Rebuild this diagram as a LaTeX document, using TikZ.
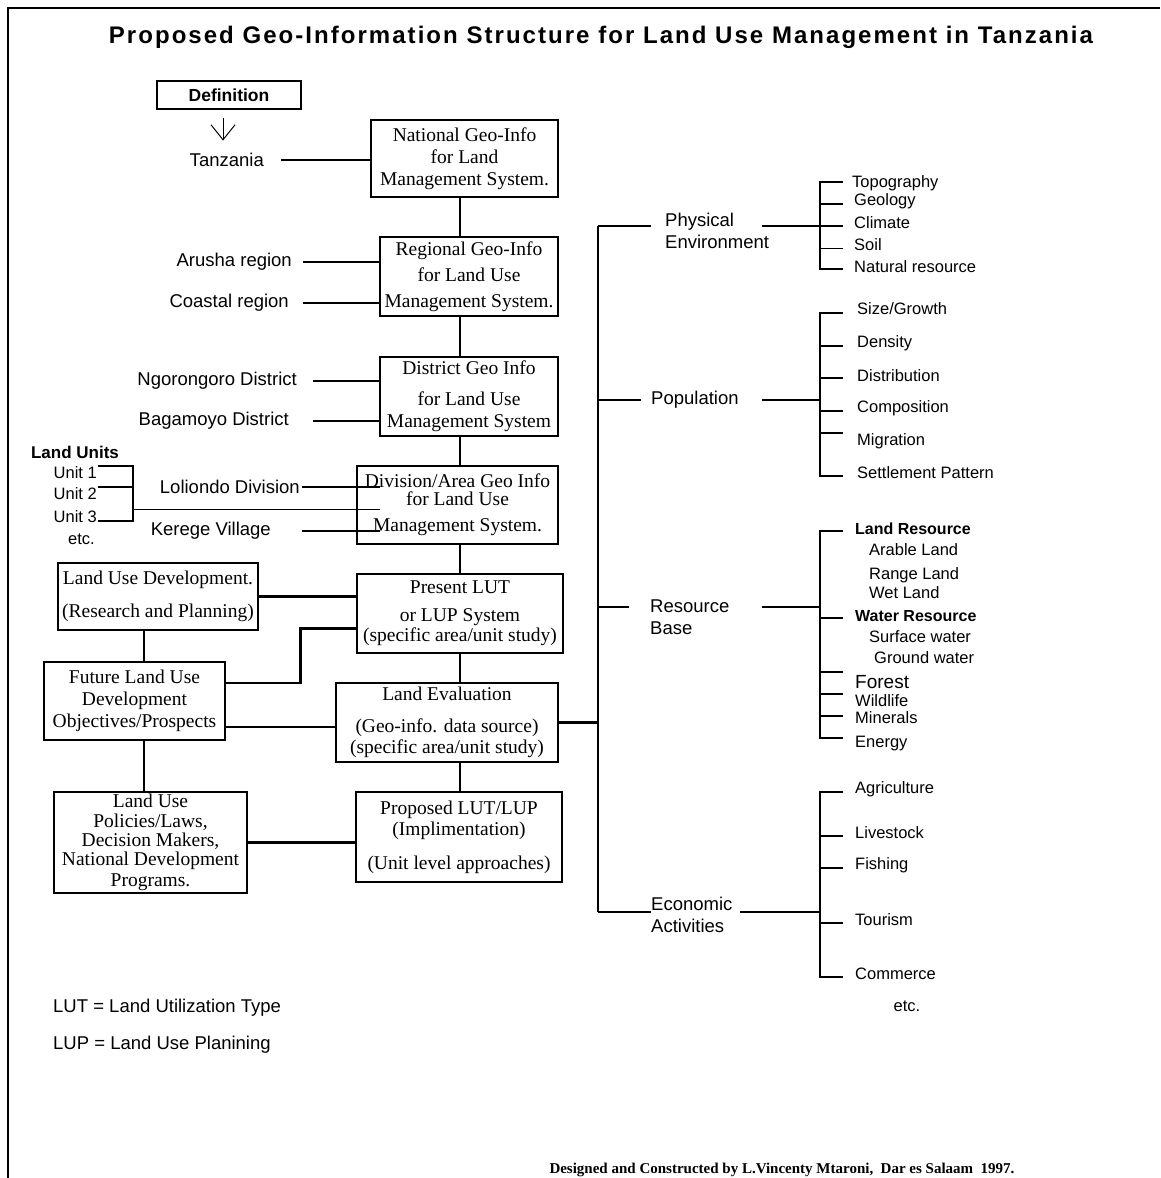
\documentclass[tikz,border=0pt]{standalone}
\usepackage{fontspec}
\setmainfont{Liberation Serif}
\setsansfont{Liberation Sans}
\newfontfamily\titlefont[LetterSpace=8.5]{Liberation Sans}
\usetikzlibrary{%
  positioning
 ,calc
 ,arrows.meta
}
\tikzstyle{box}=[draw,line width=2.7pt,align=center,inner sep=0pt,font=\fontsize{19.5}{22}\selectfont]
\tikzstyle{lbl}=[inner sep=0pt,font=\sffamily\fontsize{18.5}{22}\selectfont]
\tikzstyle{itm}=[inner sep=0pt,anchor=west,font=\sffamily\fontsize{16.5}{19}\selectfont]
\tikzstyle{link}=[line width=2.7pt]
\tikzstyle{stem}=[line width=1.4pt]

\begin{document}
\begin{tikzpicture}[x=1pt,y=-1pt]
\useasboundingbox (0,0) rectangle (1160,1178);
\draw[line width=2pt] (8,1178) -- (8,8) -- (1160,8);
\node[font=\titlefont\bfseries\fontsize{24}{28}\selectfont,inner sep=0pt](title)at(601,37)
  {Proposed Geo-Information Structure for Land Use Management in Tanzania};

% definition and centre column
\node[draw,line width=1.2pt,minimum width=144pt,minimum height=28pt,
  font=\sffamily\bfseries\fontsize{17.5}{20}\selectfont](def)at(229,95){Definition};
\node[box,minimum width=187pt,minimum height=77pt](nat)at(464.5,158.5)
  {National Geo-Info\\for Land\\Management System.};
\node[box,minimum width=178pt,minimum height=79pt](reg)at(469,276.5)
  {Regional Geo-Info\\[4pt]for Land Use\\[4pt]Management System.};
\node[box,minimum width=178pt,minimum height=79pt](dis)at(469,396.5)
  {District Geo Info\\[9pt]for Land Use\\Management System};
\node[box,minimum width=201pt,minimum height=78pt](div)at(457.5,505)
  {Division/Area Geo Info\\[-4pt]for Land Use\\[4pt]Management System.};
\node[box,minimum width=206pt,minimum height=79pt](pres)at(460,613.5)
  {Present LUT\\[6pt]or LUP System\\[-2pt](specific area/unit study)};
\node[box,minimum width=222pt,minimum height=79pt](lev)at(447,722.5)
  {Land Evaluation\\[10pt](Geo-info. data source)\\[-1pt](specific area/unit study)};
\node[box,minimum width=206pt,minimum height=90pt](prop)at(459,837)
  {Proposed LUT/LUP\\[-1pt](Implimentation)\\[12pt](Unit level approaches)};

% left column
\node[box,minimum width=200pt,minimum height=67pt](lud)at(158,596.5)
  {Land Use Development.\\[11pt](Research and Planning)};
\node[box,minimum width=181pt,minimum height=78pt](fut)at(134.5,701)
  {Future Land Use\\Development\\Objectives/Prospects};
\node[box,minimum width=193pt,minimum height=101pt](pol)at(150.5,842.5)
  {Land Use\\[-2pt]Policies/Laws,\\[-3pt]Decision Makers,\\[-3pt]National Development\\[-1pt]Programs.};

\node[lbl,anchor=east](tz)at(264,160){Tanzania};
\node[lbl,anchor=east](aru)at(292,262){Arusha region};
\node[lbl,anchor=east](coa)at(289,303){Coastal region};
\node[lbl,anchor=east](ngo)at(297,381){Ngorongoro District};
\node[lbl,anchor=east](bag)at(289,421){Bagamoyo District};
\node[lbl,anchor=east](lol)at(300,487){Loliondo Division};
\node[lbl,anchor=east](ker)at(271,531){Kerege Village};

\node[inner sep=0pt,font=\sffamily\bfseries\fontsize{17}{20}\selectfont](lu)at(75,452){Land Units};
\node[itm,anchor=east](u1)at(97,473){Unit 1};
\node[itm,anchor=east](u2)at(97,494){Unit 2};
\node[itm,anchor=east](u3)at(97,517){Unit 3};
\node[itm,anchor=center](uetc)at(81.5,539){etc.};

% right side
\node[lbl,align=left,anchor=west](phys)at(665,231){Physical\\Environment};
\node[lbl,anchor=west](pop)at(651,400){Population};
\node[lbl,align=left,anchor=west](res)at(650,617){Resource\\Base};
\node[lbl,align=left,anchor=west](eco)at(651,915){Economic\\Activities};

\node[itm](topo)at(852,183){Topography};
\node[itm](geol)at(854,201){Geology};
\node[itm](clim)at(854,223){Climate};
\node[itm](soil)at(854,245){Soil};
\node[itm](natr)at(854,267){Natural resource};

\node[itm](size)at(857,309){Size/Growth};
\node[itm](dens)at(857,343){Density};
\node[itm](dist)at(857,376){Distribution};
\node[itm](comp)at(857,408){Composition};
\node[itm](migr)at(857,441){Migration};
\node[itm](sett)at(857,473){Settlement Pattern};

\node[itm,font=\sffamily\bfseries\fontsize{16}{19}\selectfont](landr)at(855,529){Land Resource};
\node[itm](arab)at(869,550){Arable Land};
\node[itm](rang)at(869,575){Range Land};
\node[itm](wetl)at(869,593){Wet Land};
\node[itm,font=\sffamily\bfseries\fontsize{16}{19}\selectfont](water)at(855,616){Water Resource};
\node[itm](surf)at(869,637){Surface water};
\node[itm](grnd)at(874,658){Ground water};
\node[itm,font=\sffamily\fontsize{19}{22}\selectfont](fore)at(855,682){Forest};
\node[itm](wild)at(855,701){Wildlife};
\node[itm](mine)at(855,718){Minerals};
\node[itm](ener)at(855,744){Energy};

\node[itm](agri)at(855,789){Agriculture};
\node[itm](live)at(855,833){Livestock};
\node[itm](fish)at(855,865){Fishing};
\node[itm](tour)at(855,920){Tourism};
\node[itm](comm)at(855,974){Commerce};
\node[itm,anchor=center](eetc)at(907,1006){etc.};

\node[lbl,anchor=west](lut)at(53,1008){LUT = Land Utilization Type};
\node[lbl,anchor=west](lup)at(53,1045){LUP = Land Use Planining};
\node[inner sep=0pt,font=\bfseries\fontsize{15}{17}\selectfont](credit)at(782,1170)
  {Designed and Constructed by L.Vincenty Mtaroni,\ \ Dar es Salaam\ \ 1997.};

% connectors
\coordinate (spine) at (460,0);
\coordinate (lcol) at (144,0);
\coordinate (trunk) at (598,0);
\coordinate (ub) at (133,509);

\draw[-{Straight Barb[length=15pt,width=24pt]},line width=1pt] (def.south) ++(-6,8) -- ++(0,23);
\draw[stem] (nat.south -| spine) -- (reg.north -| spine);
\draw[stem] (reg.south -| spine) -- (dis.north -| spine);
\draw[stem] (dis.south -| spine) -- (div.north -| spine);
\draw[stem] (div.south -| spine) -- (pres.north -| spine);
\draw[stem] (pres.south -| spine) -- (lev.north -| spine);
\draw[stem] (lev.south -| spine) -- (prop.north -| spine);

\draw[link] (tz.east) ++(17,0) -- (nat.west |- tz);
\draw[link] (aru.east) ++(11,0) -- (reg.west |- aru);
\draw[link] (coa.east) ++(14,0) -- (reg.west |- coa);
\draw[link] (ngo.east) ++(16,0) -- (dis.west |- ngo);
\draw[link] (bag.east) ++(24,0) -- (dis.west |- bag);
\draw[link] (lol.east) ++(2,0) -- ($(div.west |- lol)+(24,0)$);
\draw[link] (ker.east) ++(31,0) -- ($(div.west |- ker)+(24,0)$);
\draw[link] (u1.east) ++(1,-7) -- ++(35,0) -- ++(0,55) -- ++(-35,0);
\draw[link] (u2.east) ++(1,-7) -- ++(35,0);
\draw[line width=1pt] (ub) -- ($(div.west |- ub)+(24,0)$);

\draw[link] (lud.south -| lcol) -- (fut.north -| lcol);
\draw[link] (fut.south -| lcol) -- (pol.north -| lcol);
\draw[link] (lud.east) -- (pres.west |- lud.east);
\draw[link] ([yshift=-15pt]pres.west) -- ++(-55,0) |- ([yshift=18pt]fut.east);
\draw[link] ([yshift=-26pt]fut.east) -- ++(111,0);
\draw[link] (pol.east) -- (prop.west |- pol.east);
\draw[link] (lev.east) -- (trunk |- lev.east);

% right tree
\draw[link] (trunk |- 0,226) -- (trunk |- 0,912);
\draw[link] (trunk |- 0,226) -- (651,226) (762,226) -- (843,226);
\draw[link] (trunk |- 0,400) -- (641,400) (762,400) -- (820,400);
\draw[link] (trunk |- 0,607) -- (629,607) (762,607) -- (820,607);
\draw[link] (trunk |- 0,912) -- (651,912) (740,912) -- (820,912);

\draw[link] (843,182) -- (820,182) -- (820,269) -- (843,269);
\draw[link] (820,204) -- (843,204);
\draw[line width=1pt] (820,248) -- (843,248);

\draw[link] (843,313) -- (820,313) -- (820,476) -- (843,476);
\draw[link] (820,346) -- (843,346) (820,378) -- (843,378) (820,411) -- (843,411) (820,433) -- (843,433);

\draw[link] (843,531) -- (820,531) -- (820,738) -- (843,738);
\draw[link] (820,618) -- (843,618) (820,672) -- (843,672) (820,694) -- (843,694) (820,716) -- (843,716);

\draw[link] (843,792) -- (820,792) -- (820,977) -- (843,977);
\draw[link] (820,836) -- (843,836) (820,868) -- (843,868) (820,923) -- (843,923);
\end{tikzpicture}
\end{document}
